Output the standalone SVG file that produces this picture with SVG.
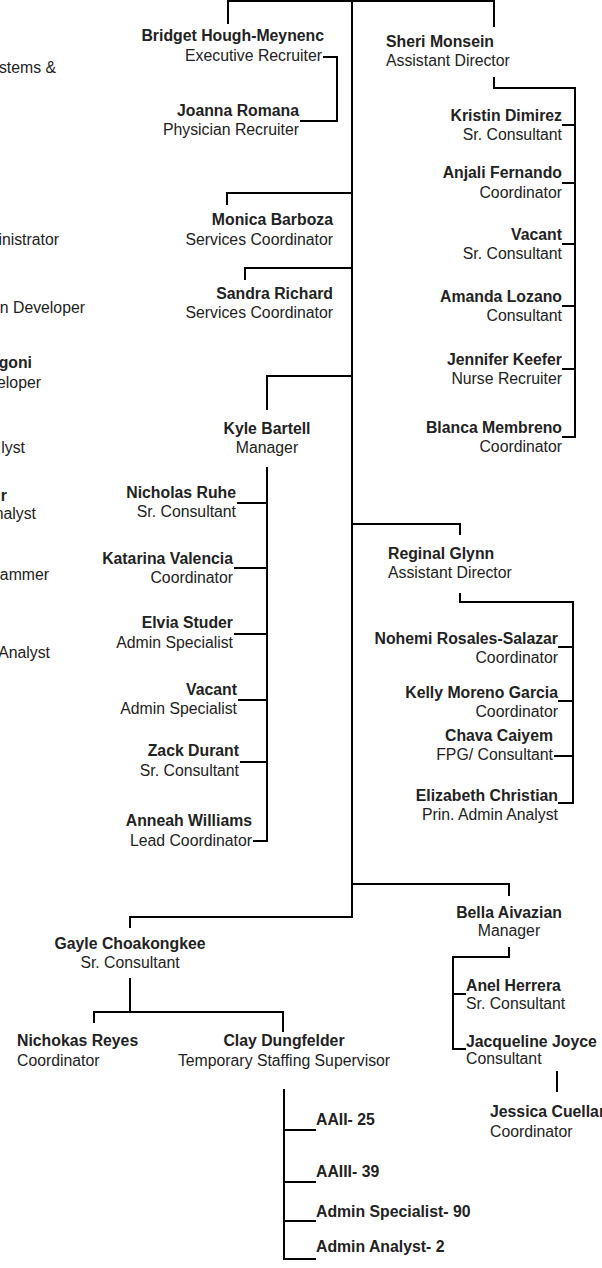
<svg xmlns="http://www.w3.org/2000/svg" width="602" height="1268" viewBox="0 0 602 1268">
<style>
text{font-family:"Liberation Sans",Arial,sans-serif;font-size:15.8px;fill:#222}
.b{font-weight:bold}
.e{text-anchor:end}
.m{text-anchor:middle}
.c path{fill:none;stroke:#000;stroke-width:2}
</style>
<rect width="602" height="1268" fill="#fff"/>
<g class="c" id="connectors">
<path d="M228,24 V1 H494 V27"/>
<path d="M352,0 V917 H130 V928"/>
<path d="M323,57 H337 V121 H300"/>
<path d="M352,193 H227 V205"/>
<path d="M352,268 H245 V280"/>
<path d="M494,77 V88 H575 V437 H562"/>
<path d="M562,125 H575 M562,183 H575 M562,244 H575 M562,306 H575 M562,369 H575"/>
<path d="M352,376 H267 V410"/>
<path d="M267,467 V841 H253"/>
<path d="M237,503 H267 M234,568 H267 M234,634 H267 M238,700 H267 M240,762 H267"/>
<path d="M352,524 H460 V535"/>
<path d="M460,593 V602 H573 V803 H558"/>
<path d="M558,647 H573 M558,701 H573 M554,756 H573"/>
<path d="M352,884 H509 V896"/>
<path d="M509,947 V957 H453 V1049 H466 M453,994 H466"/>
<path d="M130,978 V1012 M94,1023 V1012 H283 V1032"/>
<path d="M557,1071 V1092"/>
<path d="M284,1089 V1259 H316 M284,1130 H316 M284,1182 H316 M284,1221 H316"/>
</g>
<g id="cut-left">
<text class="e" x="56" y="73">stems &amp;</text>
<text class="e" x="59" y="245">inistrator</text>
<text class="e" x="85" y="313">n Developer</text>
<text class="e b" x="32" y="368">goni</text>
<text class="e" x="41" y="388">eloper</text>
<text class="e" x="25" y="453">lyst</text>
<text class="e b" x="7" y="501">r</text>
<text class="e" x="36" y="519">nalyst</text>
<text class="e" x="49" y="580">ammer</text>
<text class="e" x="50" y="658">Analyst</text>
</g>
<g id="bridget"><text class="e b" x="324" y="41">Bridget Hough-Meynenc</text><text class="e" x="322" y="61">Executive Recruiter</text></g>
<g id="joanna"><text class="e b" x="299" y="116">Joanna Romana</text><text class="e" x="299" y="135">Physician Recruiter</text></g>
<g id="monica"><text class="e b" x="333" y="225">Monica Barboza</text><text class="e" x="333" y="245">Services Coordinator</text></g>
<g id="sandra"><text class="e b" x="333" y="299">Sandra Richard</text><text class="e" x="333" y="318">Services Coordinator</text></g>
<g id="sheri"><text class="b" x="386" y="47">Sheri Monsein</text><text x="386" y="66">Assistant Director</text></g>
<g id="kristin"><text class="e b" x="562" y="121">Kristin Dimirez</text><text class="e" x="562" y="140">Sr. Consultant</text></g>
<g id="anjali"><text class="e b" x="562" y="178">Anjali Fernando</text><text class="e" x="562" y="198">Coordinator</text></g>
<g id="vacant1"><text class="e b" x="562" y="240">Vacant</text><text class="e" x="562" y="259">Sr. Consultant</text></g>
<g id="amanda"><text class="e b" x="562" y="302">Amanda Lozano</text><text class="e" x="562" y="321">Consultant</text></g>
<g id="jennifer"><text class="e b" x="562" y="365">Jennifer Keefer</text><text class="e" x="562" y="384">Nurse Recruiter</text></g>
<g id="blanca"><text class="e b" x="562" y="433">Blanca Membreno</text><text class="e" x="562" y="452">Coordinator</text></g>
<g id="kyle"><text class="m b" x="267" y="434">Kyle Bartell</text><text class="m" x="267" y="453">Manager</text></g>
<g id="nicholas"><text class="e b" x="236" y="498">Nicholas Ruhe</text><text class="e" x="236" y="517">Sr. Consultant</text></g>
<g id="katarina"><text class="e b" x="233" y="564">Katarina Valencia</text><text class="e" x="233" y="583">Coordinator</text></g>
<g id="elvia"><text class="e b" x="233" y="628">Elvia Studer</text><text class="e" x="233" y="648">Admin Specialist</text></g>
<g id="vacant2"><text class="e b" x="237" y="695">Vacant</text><text class="e" x="237" y="714">Admin Specialist</text></g>
<g id="zack"><text class="e b" x="239" y="756">Zack Durant</text><text class="e" x="239" y="776">Sr. Consultant</text></g>
<g id="anneah"><text class="e b" x="252" y="826">Anneah Williams</text><text class="e" x="252" y="846">Lead Coordinator</text></g>
<g id="reginal"><text class="b" x="388" y="559">Reginal Glynn</text><text x="388" y="578">Assistant Director</text></g>
<g id="nohemi"><text class="e b" x="558" y="644">Nohemi Rosales-Salazar</text><text class="e" x="558" y="663">Coordinator</text></g>
<g id="kelly"><text class="e b" x="558" y="698">Kelly Moreno Garcia</text><text class="e" x="558" y="717">Coordinator</text></g>
<g id="chava"><text class="e b" x="553" y="741">Chava Caiyem</text><text class="e" x="553" y="760">FPG/ Consultant</text></g>
<g id="elizabeth"><text class="e b" x="558" y="801">Elizabeth Christian</text><text class="e" x="558" y="820">Prin. Admin Analyst</text></g>
<g id="gayle"><text class="m b" x="130" y="949">Gayle Choakongkee</text><text class="m" x="130" y="968">Sr. Consultant</text></g>
<g id="nichokas"><text class="b" x="17" y="1046">Nichokas Reyes</text><text x="17" y="1066">Coordinator</text></g>
<g id="clay"><text class="m b" x="284" y="1046">Clay Dungfelder</text><text class="m" x="284" y="1066">Temporary Staffing Supervisor</text></g>
<g id="bella"><text class="m b" x="509" y="918">Bella Aivazian</text><text class="m" x="509" y="936">Manager</text></g>
<g id="anel"><text class="b" x="466" y="991">Anel Herrera</text><text x="466" y="1009">Sr. Consultant</text></g>
<g id="jacqueline"><text class="b" x="466" y="1047">Jacqueline Joyce</text><text x="466" y="1064">Consultant</text></g>
<g id="jessica"><text class="b" x="490" y="1117">Jessica Cuellar</text><text x="490" y="1137">Coordinator</text></g>
<g id="aaii"><text class="b" x="316" y="1125">AAII- 25</text></g>
<g id="aaiii"><text class="b" x="316" y="1177">AAIII- 39</text></g>
<g id="adminspec"><text class="b" x="316" y="1217">Admin Specialist- 90</text></g>
<g id="adminanalyst"><text class="b" x="316" y="1252">Admin Analyst- 2</text></g>
</svg>
